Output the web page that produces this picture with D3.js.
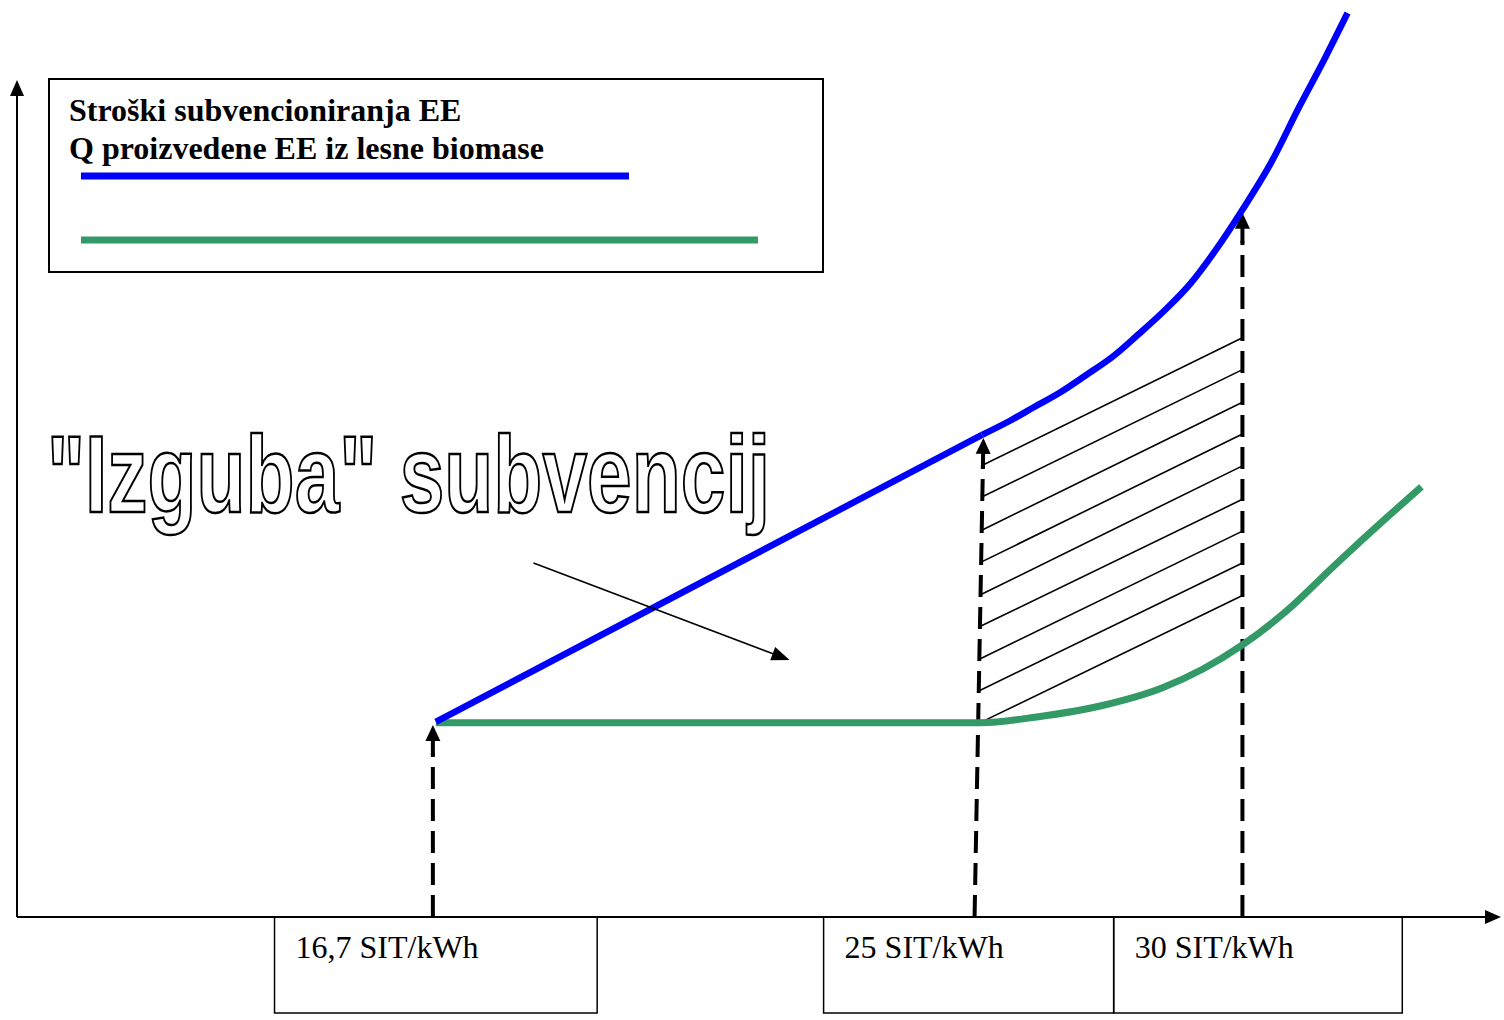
<!DOCTYPE html>
<html>
<head>
<meta charset="utf-8">
<script src="https://cdn.jsdelivr.net/npm/d3@7"></script>
<style>
  body { margin: 0; background: #fff; }
  svg { display: block; }
</style>
</head>
<body>
<div id="chart"></div>
<script>
// diagram values, in abstract units (0..100 on both axes)
const costCurveLine = [[28.3, 23.3], [65.2, 57.6]];
const costCurveBend = [[65.2, 57.6], [67.0, 59.2], [68.7, 60.9], [70.5, 62.7], [72.2, 64.7],
                       [74.0, 66.9], [75.7, 69.5], [77.5, 72.4], [79.3, 75.7], [81.0, 79.7],
                       [82.8, 84.5], [84.7, 90.0], [86.7, 97.0], [88.4, 102.7], [89.9, 108.0]];
const quantityCurve = [[28.3, 23.2], [65.1, 23.2], [68.9, 23.9], [73.4, 25.3], [77.4, 27.4],
                       [80.1, 29.6], [82.8, 32.5], [85.8, 36.6], [89.2, 42.3], [92.6, 47.8], [94.9, 51.4]];

const priceLabels = ["16,7 SIT/kWh", "25 SIT/kWh", "30 SIT/kWh"];
const priceXBottom = [28.1, 64.7, 82.8];
const priceXTop = [28.1, 65.3, 82.8];
const priceYTop = [23.3, 57.6, 84.5];
const priceBoxes = [[17.4, 39.2], [54.5, 74.1], [74.1, 93.6]];

const hatchLeftY = [54.0, 50.2, 46.2, 42.4, 38.5, 34.7, 30.8, 27.0, 23.1];
const hatchRightY = [69.2, 65.4, 61.5, 57.7, 53.9, 49.9, 46.1, 42.3, 38.4];

const lossArrow = [[34.9, 42.3], [52.2, 30.7]];

const legendNames = ["Stroški subvencioniranja EE", "Q proizvedene EE iz lesne biomase"];
const seriesColors = ["#0000ff", "#339966"];

const width = 1504, height = 1020;
const svg = d3.select("#chart").append("svg").attr("width", width).attr("height", height);

const x = d3.scaleLinear().domain([0, 100]).range([17, 1497]);
const y = d3.scaleLinear().domain([0, 100]).range([917, 80]);

const arrowHead = (g, tx, ty, angle, len, half) => {
    // angle: direction the arrow points, radians
    const bx = tx - len * Math.cos(angle), by = ty - len * Math.sin(angle);
    const px = -Math.sin(angle) * half, py = Math.cos(angle) * half;
    g.append("path")
        .attr("d", `M${tx},${ty}L${bx + px},${by + py}L${bx - px},${by - py}Z`)
        .attr("fill", "#000");
};

// axes
const axes = svg.append("g");
axes.append("line").attr("x1", x(0)).attr("y1", y(0)).attr("x2", x(0)).attr("y2", y(100) + 12)
    .attr("stroke", "#000").attr("stroke-width", 2);
arrowHead(axes, x(0), y(100), -Math.PI / 2, 16, 7);
axes.append("line").attr("x1", x(0)).attr("y1", y(0)).attr("x2", 1488).attr("y2", y(0))
    .attr("stroke", "#000").attr("stroke-width", 2);
arrowHead(axes, 1501, y(0), 0, 16, 7);

// price boxes under the axis
const boxes = svg.append("g");
priceBoxes.forEach((b, i) => {
    boxes.append("rect")
        .attr("x", x(b[0])).attr("y", y(0))
        .attr("width", x(b[1]) - x(b[0])).attr("height", 96)
        .attr("fill", "none").attr("stroke", "#000").attr("stroke-width", 1.5);
    boxes.append("text")
        .attr("x", x(b[0]) + 21).attr("y", y(0) + 41)
        .attr("font-family", "'Liberation Serif', 'Times New Roman', serif")
        .attr("font-size", 32)
        .text(priceLabels[i]);
});

// legend
const legend = svg.append("g");
legend.append("rect").attr("x", 49).attr("y", 79).attr("width", 774).attr("height", 193)
    .attr("fill", "none").attr("stroke", "#000").attr("stroke-width", 2);
legendNames.forEach((n, i) => {
    legend.append("text")
        .attr("x", 69).attr("y", 121 + i * 38)
        .attr("font-family", "'Liberation Serif', 'Times New Roman', serif")
        .attr("font-weight", "bold").attr("font-size", 32)
        .text(n);
});
legend.append("line").attr("x1", 81).attr("x2", 629).attr("y1", 176).attr("y2", 176)
    .attr("stroke", seriesColors[0]).attr("stroke-width", 7);
legend.append("line").attr("x1", 81).attr("x2", 758).attr("y1", 240).attr("y2", 240)
    .attr("stroke", seriesColors[1]).attr("stroke-width", 7);

// outlined caption
svg.append("text")
    .attr("x", 47).attr("y", 512)
    .attr("font-family", "'Liberation Sans', Arial, sans-serif")
    .attr("font-weight", "bold").attr("font-size", 110)
    .attr("textLength", 723).attr("lengthAdjust", "spacingAndGlyphs")
    .attr("fill", "#fff").attr("stroke", "#000").attr("stroke-width", 2.5)
    .text("\"Izguba\" subvencij");

// hatching between the two price lines
const midX = (v) => priceXBottom[1] + (priceXTop[1] - priceXBottom[1]) * v / priceYTop[1];
const hatch = svg.append("g");
hatchLeftY.forEach((ly, i) => {
    hatch.append("line")
        .attr("x1", x(midX(ly))).attr("y1", y(ly))
        .attr("x2", x(priceXTop[2])).attr("y2", y(hatchRightY[i]))
        .attr("stroke", "#000").attr("stroke-width", 1.6);
});

// dashed price lines with arrows
const guides = svg.append("g");
priceLabels.forEach((p, i) => {
    const x0 = x(priceXBottom[i]), y0 = y(0);
    const x1 = x(priceXTop[i]), y1 = y(priceYTop[i]) + 3;
    const ang = Math.atan2(y1 - y0, x1 - x0);
    const len = Math.hypot(x1 - x0, y1 - y0);
    const at = (d) => [x0 + Math.cos(ang) * d, y0 + Math.sin(ang) * d];
    const dashEnd = at(len - 28), stubStart = at(len - 30), base = at(len - 15);
    guides.append("line")
        .attr("x1", x0).attr("y1", y0).attr("x2", dashEnd[0]).attr("y2", dashEnd[1])
        .attr("stroke", "#000").attr("stroke-width", 4).attr("stroke-dasharray", "22 10");
    guides.append("line")
        .attr("x1", stubStart[0]).attr("y1", stubStart[1]).attr("x2", base[0]).attr("y2", base[1])
        .attr("stroke", "#000").attr("stroke-width", 4);
    arrowHead(guides, x1, y1, ang, 16, 7.5);
});

// curves
const line = d3.line().x(d => x(d[0])).y(d => y(d[1]));
svg.append("path").datum(quantityCurve)
    .attr("d", line.curve(d3.curveMonotoneX))
    .attr("fill", "none").attr("stroke", seriesColors[1]).attr("stroke-width", 7);
svg.append("path").datum(costCurveLine)
    .attr("d", line.curve(d3.curveLinear))
    .attr("fill", "none").attr("stroke", seriesColors[0]).attr("stroke-width", 6.5);
svg.append("path").datum(costCurveBend)
    .attr("d", line.curve(d3.curveMonotoneX))
    .attr("fill", "none").attr("stroke", seriesColors[0]).attr("stroke-width", 6.5);

// arrow pointing at the lost subsidy
const la = svg.append("g");
const ax0 = x(lossArrow[0][0]), ay0 = y(lossArrow[0][1]);
const ax1 = x(lossArrow[1][0]), ay1 = y(lossArrow[1][1]);
const lang = Math.atan2(ay1 - ay0, ax1 - ax0);
la.append("line").attr("x1", ax0).attr("y1", ay0)
    .attr("x2", ax1 - Math.cos(lang) * 12).attr("y2", ay1 - Math.sin(lang) * 12)
    .attr("stroke", "#000").attr("stroke-width", 1.6);
arrowHead(la, ax1, ay1, lang, 18, 7);
</script>
</body>
</html>
